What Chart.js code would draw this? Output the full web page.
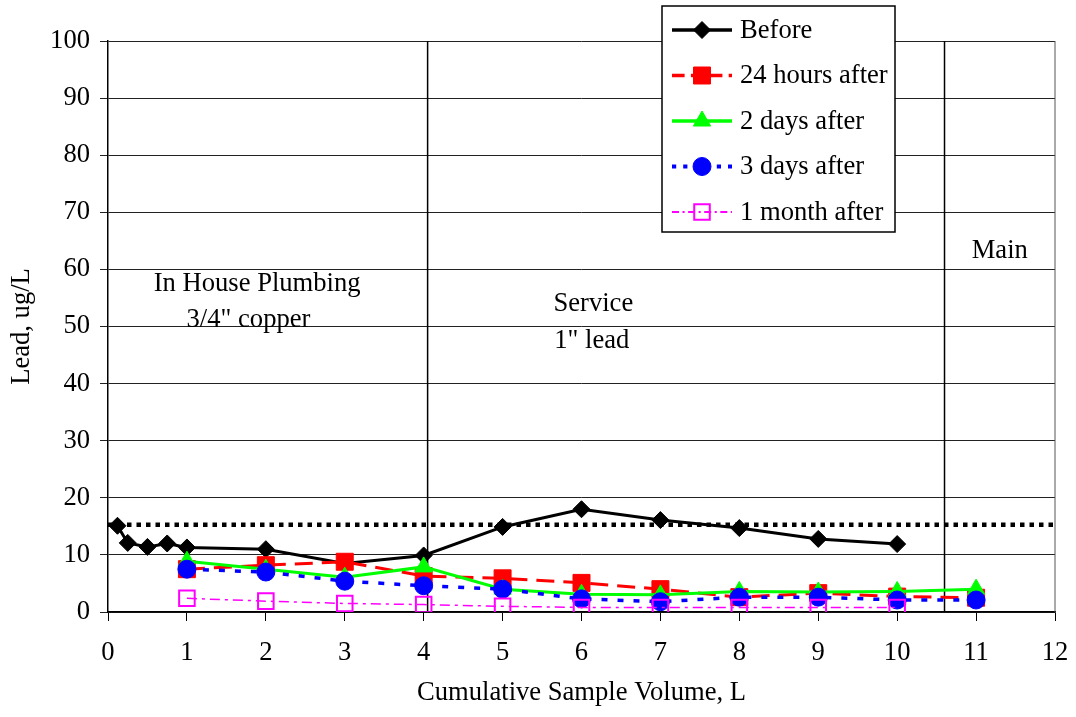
<!DOCTYPE html>
<html>
<head>
  <title>Lead profile after service replacement</title>
  <script src="https://cdn.jsdelivr.net/npm/chart.js"></script>
  <style>
    body { margin: 0; background: #fff; }
  </style>
</head>
<body>
  <canvas id="leadChart" width="1076" height="717"></canvas>

  <script>
    // Sample volumes (L) and lead values (ug/L)
    const beforeX = [0.12, 0.25, 0.5, 0.75, 1, 2, 3, 4, 5, 6, 7, 8, 9, 10];
    const beforeY = [15.1, 12.1, 11.4, 12.0, 11.3, 11.0, 8.5, 9.9, 14.9, 18.0, 16.1, 14.7, 12.8, 11.9];

    const afterX = [1, 2, 3, 4, 5, 6, 7, 8, 9, 10, 11];
    const hours24 = [7.5, 8.2, 8.8, 6.3, 5.9, 5.1, 4.0, 2.6, 3.3, 2.7, 2.5];
    const days2 = [8.9, 7.5, 6.1, 7.9, 4.0, 3.1, 3.0, 3.6, 3.5, 3.6, 4.0];
    const days3 = [7.5, 7.0, 5.4, 4.6, 4.0, 2.3, 1.8, 2.6, 2.6, 2.1, 2.1];

    const monthX = [1, 2, 3, 4, 5, 6, 7, 8, 9, 10];
    const month1 = [2.4, 1.9, 1.5, 1.3, 1.0, 0.8, 0.8, 0.8, 0.8, 0.8];

    const actionLevel = 15.3;
    const sectionBounds = [4.05, 10.6];

    // section labels: [text, x, y] in data units
    const sectionLabels = [
      ['In House Plumbing', 1.89, 57.4],
      ['3/4" copper', 1.78, 51.1],
      ['Service', 6.15, 54.0],
      ['1" lead', 6.13, 47.4],
      ['Main', 11.3, 63.2]
    ];

    const FONT = 'Liberation Serif, Times New Roman, serif';
    const FS = 26.6;

    function pts(xs, ys) {
      return xs.map((x, i) => ({ x: x, y: ys[i] }));
    }

    const series = [
      { label: 'Before', data: pts(beforeX, beforeY), borderColor: '#000000', backgroundColor: '#000000',
        borderWidth: 3, borderDash: [], pointStyle: 'rectRot', pointRadius: 8.5, order: 5 },
      { label: '24 hours after', data: pts(afterX, hours24), borderColor: '#ff0000', backgroundColor: '#ff0000',
        borderWidth: 3, borderDash: [18, 9], pointStyle: 'rect', pointRadius: 12, order: 4 },
      { label: '2 days after', data: pts(afterX, days2), borderColor: '#00ff00', backgroundColor: '#00ff00',
        borderWidth: 3, borderDash: [], pointStyle: 'triangle', pointRadius: 10, order: 3 },
      { label: '3 days after', data: pts(afterX, days3), borderColor: '#0000ff', backgroundColor: '#0000ff',
        borderWidth: 3.5, borderDash: [6, 10], pointStyle: 'circle', pointRadius: 9, order: 2 },
      { label: '1 month after', data: pts(monthX, month1), borderColor: '#ff00ff', backgroundColor: 'rgba(0,0,0,0)',
        borderWidth: 1.5, borderDash: [10, 5, 3, 5], pointStyle: 'rect', pointRadius: 11, pointBorderWidth: 2, order: 1 }
    ];

    const datasets = series.map(s => Object.assign({
      showLine: true,
      fill: false,
      tension: 0,
      pointBorderColor: s.borderColor,
      pointBackgroundColor: s.backgroundColor,
      pointBorderWidth: s.pointBorderWidth || 1,
      pointHoverRadius: s.pointRadius
    }, s));

    // dotted reference line
    datasets.push({
      label: 'action',
      data: [{ x: 0, y: actionLevel }, { x: 12, y: actionLevel }],
      showLine: true,
      borderColor: '#000000',
      borderWidth: 4.5,
      borderDash: [4.5, 5],
      pointRadius: 0,
      order: 10
    });

    // frame, separators, section labels and the boxed legend
    const overlay = {
      id: 'overlay',
      beforeDatasetsDraw(chart) {
        const { ctx, chartArea: a, scales: { x, y } } = chart;
        ctx.save();
        ctx.strokeStyle = '#000';
        ctx.lineWidth = 1.5;
        sectionBounds.forEach(v => {
          const px = x.getPixelForValue(v);
          ctx.beginPath();
          ctx.moveTo(px, a.top);
          ctx.lineTo(px, a.bottom);
          ctx.stroke();
        });
        ctx.lineWidth = 1;
        ctx.strokeStyle = '#555';
        ctx.beginPath();
        ctx.moveTo(a.right, a.top);
        ctx.lineTo(a.right, a.bottom);
        ctx.stroke();

        ctx.fillStyle = '#000';
        ctx.font = FS + 'px ' + FONT;
        ctx.textAlign = 'center';
        ctx.textBaseline = 'middle';
        sectionLabels.forEach(l => {
          ctx.fillText(l[0], x.getPixelForValue(l[1]), y.getPixelForValue(l[2]));
        });
        ctx.restore();
      },
      afterDraw(chart) {
        const ctx = chart.ctx;
        const box = { left: 662, top: 6, width: 233, height: 226 };
        ctx.save();
        ctx.fillStyle = '#fff';
        ctx.fillRect(box.left, box.top, box.width, box.height);
        ctx.strokeStyle = '#000';
        ctx.lineWidth = 1.5;
        ctx.strokeRect(box.left, box.top, box.width, box.height);

        series.forEach((s, i) => {
          const cy = 30 + i * 45.5;
          ctx.save();
          ctx.strokeStyle = s.borderColor;
          ctx.lineWidth = s.borderWidth + 0.5;
          ctx.setLineDash(s.borderDash.map(d => d * 0.7));
          ctx.beginPath();
          ctx.moveTo(672, cy);
          ctx.lineTo(732, cy);
          ctx.stroke();
          ctx.restore();
          ctx.save();
          ctx.fillStyle = s.backgroundColor;
          ctx.strokeStyle = s.borderColor;
          ctx.lineWidth = s.pointBorderWidth || 1;
          Chart.helpers.drawPoint(ctx, {
            pointStyle: s.pointStyle,
            radius: s.pointRadius,
            borderWidth: s.pointBorderWidth || 1,
            rotation: 0
          }, 702, cy);
          ctx.restore();
          ctx.fillStyle = '#000';
          ctx.font = FS + 'px ' + FONT;
          ctx.textAlign = 'left';
          ctx.textBaseline = 'middle';
          ctx.fillText(s.label, 740, cy + 1);
        });
        ctx.restore();
      }
    };

    const ctx = document.getElementById('leadChart').getContext('2d');
    new Chart(ctx, {
      type: 'scatter',
      data: { datasets: datasets },
      options: {
        responsive: false,
        animation: false,
        events: [],
        layout: { padding: { top: 41, right: 21, left: 0, bottom: 0 } },
        plugins: {
          legend: { display: false },
          tooltip: { enabled: false }
        },
        scales: {
          x: {
            type: 'linear',
            min: 0,
            max: 12,
            afterFit: scale => {
              scale.height = 105;
              scale.paddingLeft = 0;
              scale.paddingRight = 0;
            },
            ticks: {
              stepSize: 1,
              color: '#000',
              padding: 16,
              font: { family: FONT, size: FS }
            },
            grid: { drawOnChartArea: false, drawTicks: true, tickLength: 9, color: '#000' },
            border: { display: true, color: '#000', width: 1.5 },
            title: {
              display: true,
              text: 'Cumulative Sample Volume, L',
              color: '#000',
              padding: { top: 0, bottom: 8 },
              font: { family: FONT, size: FS }
            }
          },
          y: {
            type: 'linear',
            min: 0,
            max: 100,
            afterFit: scale => {
              scale.width = 108;
              scale.paddingTop = 0;
              scale.paddingBottom = 0;
            },
            ticks: {
              stepSize: 10,
              color: '#000',
              padding: 10,
              font: { family: FONT, size: FS }
            },
            grid: { color: '#222', lineWidth: 1, tickLength: 8 },
            border: { display: true, color: '#000', width: 1.5 },
            title: {
              display: true,
              text: 'Lead, ug/L',
              color: '#000',
              padding: { top: 6, bottom: 0 },
              font: { family: FONT, size: FS }
            }
          }
        }
      },
      plugins: [overlay]
    });
  </script>
</body>
</html>
